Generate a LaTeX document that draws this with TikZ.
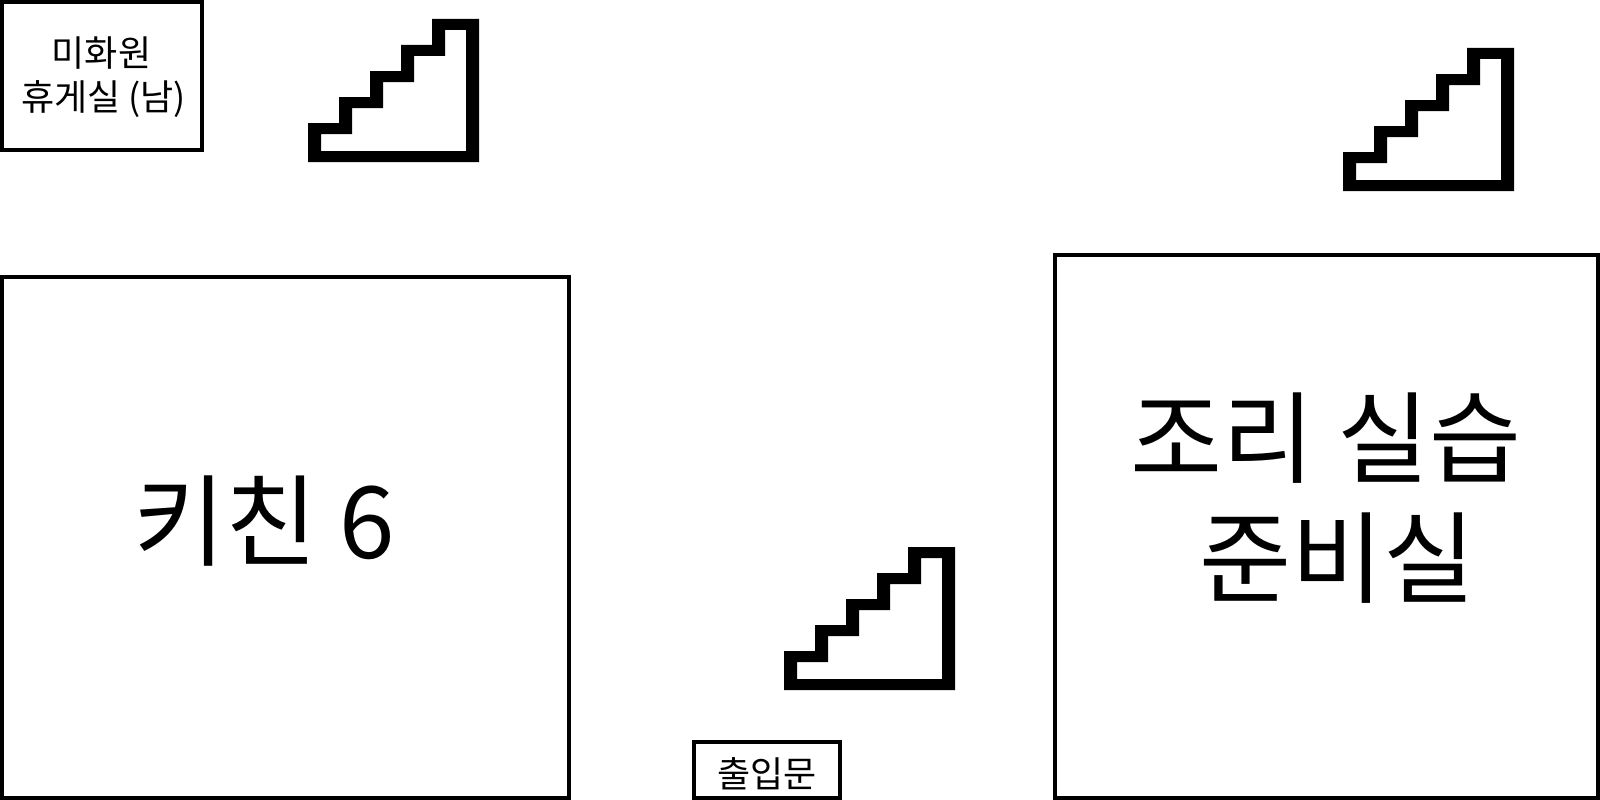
\documentclass[tikz,border=0pt]{standalone}
\usepackage{fontspec}
\setmainfont{Noto Sans CJK KR}

\begin{document}
\begin{tikzpicture}[x=1pt,y=-1pt]
  \tikzset{room/.style={draw=black,line width=4pt,anchor=north west,inner sep=0pt,outer sep=0pt}}
  \tikzset{smalltxt/.style={align=center,inner sep=0pt,font=\fontsize{36}{44}\selectfont}}
  \tikzset{bigtxt/.style={align=center,inner sep=0pt,font=\fontsize{100}{120}\selectfont}}
  \useasboundingbox (0,0) rectangle (1600,800);

  % Rooms
  \node[room,minimum width=567pt,minimum height=521pt] (kitchen) at (2,277) {};
  \node[room,minimum width=200pt,minimum height=148pt] (lounge) at (2,2) {};
  \node[room,minimum width=146pt,minimum height=56pt] (entrance) at (694,742) {};
  \node[room,minimum width=543pt,minimum height=543pt] (prep) at (1055,255) {};

  % Labels
  \node[smalltxt] (loungetxt) at (103.5,77) {\hspace*{-4pt}미화원\\휴게실 (남)};
  \node[bigtxt] (kitchentxt) at (264,521) {키친 6};
  \node[smalltxt] (entrancetxt) at (767,774) {출입문};
  \node[bigtxt] (preptxt) at (1326,498) {조리 실습\\\hspace*{22pt}준비실};

  % Stairs
  \foreach \dx/\dy in {0/0,476/528,1035/29}{
    \fill[black,even odd rule,shift={(\dx,\dy)}]
      (308,162) -- (308,123) -- (339,123) -- (339,97) -- (370,97) -- (370,71)
      -- (401,71) -- (401,45) -- (432,45) -- (432,19) -- (479,19) -- (479,162) -- cycle
      (321,151) -- (321,134) -- (352,134) -- (352,108) -- (383,108) -- (383,82)
      -- (414,82) -- (414,56) -- (445,56) -- (445,30) -- (466,30) -- (466,151) -- cycle;
  }
\end{tikzpicture}
\end{document}
